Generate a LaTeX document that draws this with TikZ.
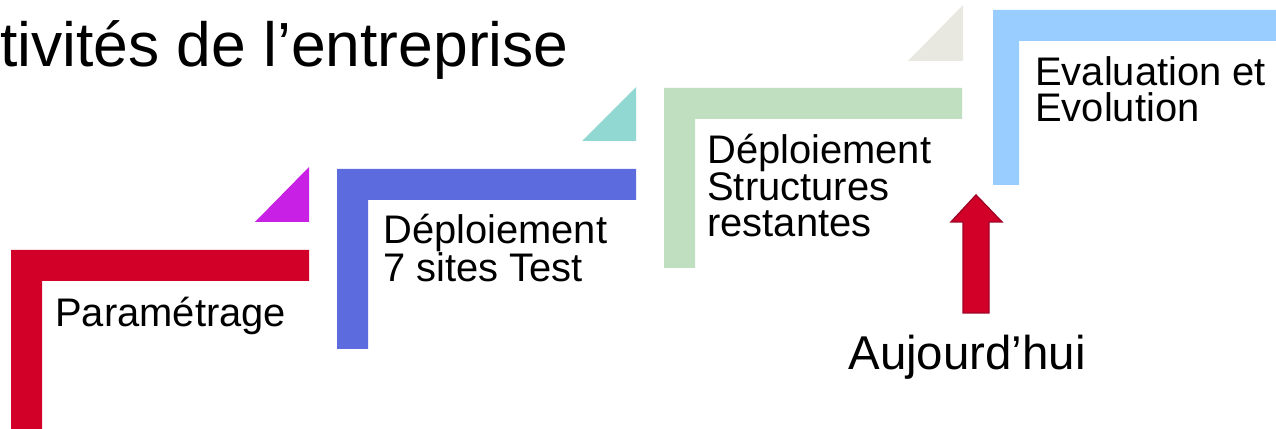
\documentclass[tikz,border=0pt]{standalone}
\usepackage{fontspec}
\setmainfont{Liberation Sans}
\usepackage{tikz}
\usetikzlibrary{calc}

\definecolor{stepred}{RGB}{210,0,40}
\definecolor{stepblue}{RGB}{92,107,222}
\definecolor{stepgreen}{RGB}{192,223,192}
\definecolor{steplight}{RGB}{153,204,255}
\definecolor{cornermagenta}{RGB}{200,32,228}
\definecolor{cornerteal}{RGB}{146,216,210}
\definecolor{cornerbeige}{RGB}{232,232,224}
\definecolor{arrowborder}{RGB}{160,0,36}

\begin{document}
\begin{tikzpicture}[
            steplabel/.style={anchor=base west, inner sep=0pt, align=left, font=\fontsize{22.7}{21}\selectfont},
            stair/.style={draw=none},
            corner/.style={draw=none}
        ]
            \clip (0,0) rectangle (25.52,8.58);

% Title (cut off on the left)
            \node[anchor=base east, inner sep=0pt, font=\fontsize{35.5}{40}\selectfont] (title) at (11.38,7.24) {Activités de l’entreprise};

% Step 1
            \fill[stair, stepred] (0.22,-0.2) -- (0.22,3.58) -- (6.18,3.58) -- (6.18,2.96) -- (0.84,2.96) -- (0.84,-0.2) -- cycle;
            \fill[corner, cornermagenta] (5.10,4.14) -- (6.18,4.14) -- (6.18,5.24) -- cycle;
            \node[steplabel] (param) at (1.10,2.04) {Paramétrage};

% Step 2 (base = last line)
            \fill[stair, stepblue] (6.74,1.60) -- (6.74,5.20) -- (12.72,5.20) -- (12.72,4.58) -- (7.36,4.58) -- (7.36,1.60) -- cycle;
            \fill[corner, cornerteal] (11.64,5.76) -- (12.72,5.76) -- (12.72,6.84) -- cycle;
            \node[steplabel] (test_sites) at (7.66,2.94) {Déploiement\\7 sites Test};

% Step 3
            \fill[stair, stepgreen] (13.28,3.22) -- (13.28,6.82) -- (19.24,6.82) -- (19.24,6.20) -- (13.90,6.20) -- (13.90,3.22) -- cycle;
            \fill[corner, cornerbeige] (18.16,7.36) -- (19.26,7.36) -- (19.26,8.48) -- cycle;
            \node[steplabel] (structures) at (14.14,3.84) {Déploiement\\Structures\\restantes};

% Step 4
            \fill[stair, steplight] (19.86,4.88) -- (19.86,8.38) -- (25.80,8.38) -- (25.80,7.76) -- (20.38,7.76) -- (20.38,4.88) -- cycle;
            \node[steplabel] (evaluation) at (20.70,6.14) {Evaluation et\\Evolution};

% Today marker
            \filldraw[fill=stepred, draw=arrowborder, line width=0.8pt] (19.26,2.32) -- (19.26,4.14) -- (19.02,4.14) -- (19.52,4.68) -- (20.04,4.14) -- (19.78,4.14) -- (19.78,2.32) -- cycle;
            \node[anchor=base west, inner sep=0pt, font=\fontsize{27}{30}\selectfont] (today) at (16.96,1.18) {Aujourd’hui};

        \end{tikzpicture}
\end{document}
